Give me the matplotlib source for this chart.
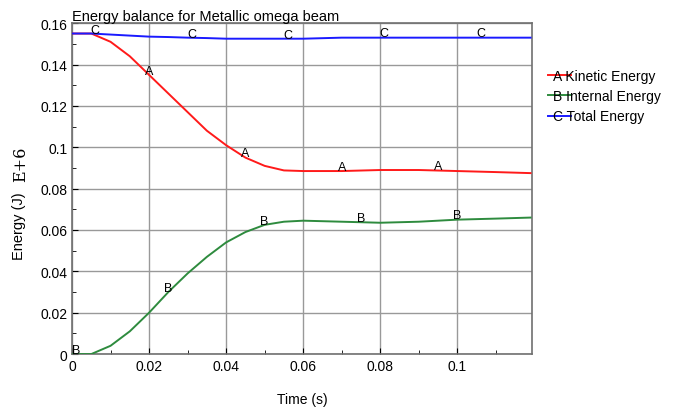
import numpy as np
import matplotlib
matplotlib.use("Agg")
import matplotlib.pyplot as plt
from matplotlib.lines import Line2D

plt.rcParams['font.family'] = ['Liberation Sans', 'DejaVu Sans']

# time samples (s)
t = [0.0, 0.005, 0.01, 0.015, 0.02, 0.025, 0.03, 0.035, 0.04, 0.045, 0.05,
     0.055, 0.06, 0.07, 0.08, 0.09, 0.1, 0.11, 0.119]
# energies (J, x 1E+6)
kinetic = [0.155, 0.155, 0.151, 0.144, 0.135, 0.126, 0.117, 0.108, 0.101, 0.095,
           0.091, 0.0888, 0.0885, 0.0885, 0.089, 0.089, 0.0885, 0.088, 0.0875]
internal = [0.0, 0.0, 0.004, 0.011, 0.020, 0.030, 0.039, 0.047, 0.054, 0.059,
            0.0625, 0.064, 0.0645, 0.064, 0.0635, 0.064, 0.065, 0.0655, 0.066]
total = [0.155, 0.155, 0.1545, 0.154, 0.1535, 0.1533, 0.153, 0.1528, 0.1525, 0.1525,
         0.1525, 0.1525, 0.1525, 0.153, 0.153, 0.153, 0.153, 0.153, 0.153]

labels = ['Kinetic Energy', 'Internal Energy', 'Total Energy']
letters = ['A', 'B', 'C']
colors = ['#ff1a1a', '#2e8b3e', '#1a1aff']
letter_x = [
    [0.02, 0.045, 0.07, 0.095],
    [0.001, 0.025, 0.05, 0.075, 0.1],
    [0.006, 0.031, 0.056, 0.081, 0.106],
]

fig = plt.figure(figsize=(6.82, 4.10), dpi=100)
ax = fig.add_axes([0.1056, 0.134, 0.674, 0.807])

for i, (ys, let, col, lx) in enumerate(zip([kinetic, internal, total], letters, colors, letter_x)):
    ax.plot(t, ys, color=col, lw=1.4, zorder=3 + i * 0.1)
    for x in lx:
        y = np.interp(x, t, ys)
        ax.annotate(let, (x, y), xytext=(0, 3), textcoords='offset points',
                    ha='center', va='center', fontsize=9, zorder=5)

ax.set_xlim(0, 0.1193)
ax.set_ylim(0, 0.16)
ax.set_xticks([0, 0.02, 0.04, 0.06, 0.08, 0.1])
ax.set_xticklabels(['0', '0.02', '0.04', '0.06', '0.08', '0.1'])
ax.set_yticks(np.arange(0, 0.161, 0.02))
ax.set_yticklabels(['0', '0.02', '0.04', '0.06', '0.08', '0.1', '0.12', '0.14', '0.16'])
ax.set_xticks(np.arange(0.01, 0.12, 0.01), minor=True)
ax.set_yticks(np.arange(0.01, 0.16, 0.02), minor=True)
ax.tick_params(which='both', direction='in', labelsize=10)
ax.tick_params(which='major', length=4)
ax.tick_params(which='minor', length=3)
ax.grid(True, which='major', color='#999999', lw=1.0)
for s in ax.spines.values():
    s.set_color('#707070')
    s.set_linewidth(1.2)

ax.set_title('Energy balance for Metallic omega beam', loc='left', fontsize=10.5, pad=2)
ax.set_xlabel('Time (s)', fontsize=10, labelpad=14)
ax.set_ylabel('Energy (J)', fontsize=10.5)
ax.yaxis.set_label_coords(-0.10, 0.39)
fig.text(0.030, 0.60, 'E+6', rotation=90, family='DejaVu Serif', fontsize=11.5,
         ha='center', va='center')

handles = [Line2D([], [], color=c, lw=1.4) for c in colors]
leg_labels = [f'{l} {n}' for l, n in zip(letters, labels)]
fig.legend(handles, leg_labels, loc='upper left', bbox_to_anchor=(0.785, 0.86),
           frameon=False, fontsize=10, handlelength=1.7, handletextpad=-1.3,
           labelspacing=0.45)

fig.savefig('out.png', dpi=100)
